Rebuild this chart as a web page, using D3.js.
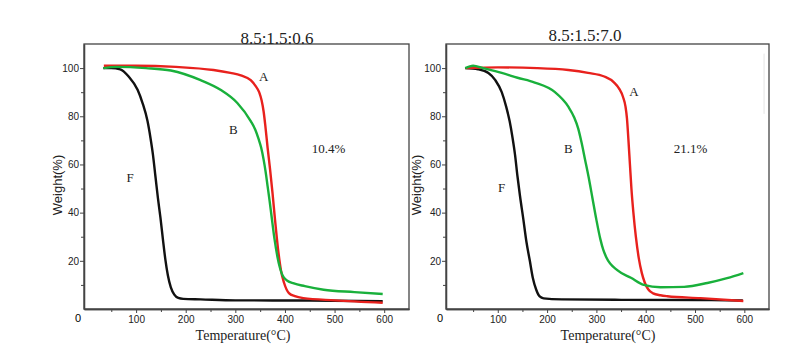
<!DOCTYPE html>
<html>
<head>
<meta charset="utf-8">
<script src="https://cdn.jsdelivr.net/npm/d3@7"></script>
<style>
  body { margin: 0; background: #fff; }
  svg { display: block; }
  .tick text { font-family: "Liberation Sans", Arial, sans-serif; font-size: 10px; fill: #222; }
  .serif { font-family: "Liberation Serif", "Times New Roman", serif; fill: #222; }
</style>
</head>
<body>
<svg id="chart" width="791" height="352"></svg>
<script>
// tick values
var majorX = [100, 200, 300, 400, 500, 600];
var minorX = [50, 150, 250, 350, 450, 550];
var majorY = [20, 40, 60, 80, 100];
var minorY = [10, 30, 50, 70, 90];

// left panel 8.5:1.5:0.6  [temperature, weight%]
var leftA = [[35,101],[100,101],[180,100.5],[256,99.2],[290,98],[311,97],[331,95],[341,92.5],[348,90],[353,86.5],[357,82],[361,75],[365,67],[370,58],[375,48],[380,37],[386,25],[392,16],[398,11],[408,6.6],[420,5.3],[437,4.5],[500,3.6],[597,2.6]];
var leftB = [[34,100],[60,100.5],[120,100],[170,99],[230,95],[270,91],[304,85.5],[331,78],[340,74.5],[347,70.5],[352,67],[357,62],[361,57],[365,51],[369,45],[373,38.5],[379,29],[385,21.5],[390,17],[395,14],[403,12],[418,10.6],[440,9.5],[478,8],[540,7],[597,6.2]];
var leftF = [[34,100],[50,100],[68,99.5],[85,96.5],[103,91],[113,85.5],[123,78],[129,71],[134,64],[139,55],[144,46],[149,38],[154,29],[159,20.5],[164,14],[170,9],[177,6],[185,4.6],[195,4.2],[230,4],[300,3.6],[450,3.5],[597,3.2]];

// right panel 8.5:1.5:7.0
var rightA = [[35,100],[100,100.3],[180,100],[243,99.2],[283,98],[316,96.5],[336,94],[346,91.5],[354,88],[359,84],[362,79],[365,70],[368,60],[371,50],[375,40],[380,30],[386,21],[392,15],[398,11],[405,8.2],[415,6.5],[430,5.7],[444,5.3],[511,4.5],[598,3.3]];
var rightB = [[34,100],[50,101],[70,100],[108,98],[140,96],[175,94],[216,90],[243,84],[255,79.5],[263,75],[270,69],[277,62],[284,55],[292,46],[300,37],[308,29],[314,24.5],[320,21.5],[343,16],[370,13],[396,10],[430,9],[478,9.2],[525,10.8],[565,12.8],[598,14.9]];
var rightF = [[34,100],[60,99.5],[81,98],[95,95],[108,90],[117,84],[124,78],[130,71],[135,64],[140,55],[145,47],[152,37],[158,28],[165,20],[171,13],[178,8],[185,5.2],[193,4.4],[230,4],[350,3.8],[530,3.7],[597,3.5]];

var colors = { A: "#e8211d", B: "#19b03b", F: "#111111" };

var svg = d3.select("#chart");

function drawPanel(cfg) {
    var x = d3.scaleLinear().domain([-5, 650]).range([cfg.left, cfg.right]);
    var y = d3.scaleLinear().domain([0, 110]).range([309, 44]);
    var g = svg.append("g");

    // frame
    g.append("rect")
        .attr("x", cfg.left).attr("y", 44)
        .attr("width", cfg.right - cfg.left).attr("height", 309 - 44)
        .attr("fill", "none").attr("stroke", "#444").attr("stroke-width", 1.3);

    // axes
    g.append("g").attr("transform", "translate(0,309)")
        .call(d3.axisBottom(x).tickValues(majorX).tickSize(4).tickPadding(3).tickSizeOuter(0));
    g.append("g").attr("transform", "translate(0,309)")
        .call(d3.axisBottom(x).tickValues(minorX).tickSize(3).tickFormat("").tickSizeOuter(0));
    g.append("g").attr("transform", "translate(" + cfg.left + ",0)")
        .call(d3.axisLeft(y).tickValues(majorY).tickSize(4).tickPadding(1).tickSizeOuter(0));
    g.append("g").attr("transform", "translate(" + cfg.left + ",0)")
        .call(d3.axisLeft(y).tickValues(minorY).tickSize(3).tickFormat("").tickSizeOuter(0));
    g.selectAll(".domain").attr("stroke", "#444").attr("stroke-width", 1.3);
    g.selectAll(".tick line").attr("stroke", "#444");

    // origin label
    g.append("text").attr("x", cfg.left - 6).attr("y", 322)
        .attr("text-anchor", "middle")
        .style("font-family", "Liberation Sans, Arial, sans-serif").style("font-size", "11px")
        .text("0");

    // curves
    var line = d3.line()
        .x(function(d){ return x(d[0]); })
        .y(function(d){ return y(d[1]); })
        .curve(d3.curveMonotoneX);
    cfg.series.forEach(function(s){
        g.append("path").datum(s.data)
            .attr("fill", "none")
            .attr("stroke", colors[s.key])
            .attr("stroke-width", 2.4)
            .attr("stroke-linejoin", "round")
            .attr("d", line);
    });

    // annotations
    cfg.notes.forEach(function(n){
        g.append("text").attr("class", "serif")
            .attr("x", x(n[0])).attr("y", y(n[1]))
            .attr("text-anchor", "middle")
            .style("font-size", "13px")
            .text(n[2]);
    });

    // titles
    g.append("text").attr("class", "serif")
        .attr("x", cfg.titleX).attr("y", cfg.titleY)
        .attr("text-anchor", "middle").style("font-size", "17px")
        .text(cfg.title);
    g.append("text").attr("class", "serif")
        .attr("x", cfg.xTitleX).attr("y", 340)
        .attr("text-anchor", "middle").style("font-size", "14px")
        .text("Temperature(°C)");
    g.append("text")
        .attr("transform", "translate(" + cfg.yTitleX + ",185) rotate(-90)")
        .attr("text-anchor", "middle")
        .style("font-family", "Liberation Sans, Arial, sans-serif").style("font-size", "13px")
        .style("fill", "#222")
        .text("Weight(%)");
    return { x: x, y: y, g: g };
}

drawPanel({
    left: 84, right: 409, title: "8.5:1.5:0.6", titleX: 277, titleY: 44,
    xTitleX: 243, yTitleX: 62,
    series: [{ key: "F", data: leftF }, { key: "A", data: leftA }, { key: "B", data: leftB }],
    notes: [[357, 94.5, "A"], [296, 72.6, "B"], [488, 64.8, "10.4%"], [88, 52.7, "F"]]
});

var rp = drawPanel({
    left: 446, right: 769, title: "8.5:1.5:7.0", titleX: 585, titleY: 41,
    xTitleX: 608, yTitleX: 421,
    series: [{ key: "F", data: rightF }, { key: "A", data: rightA }, { key: "B", data: rightB }],
    notes: [[376, 88.4, "A"], [243, 64.8, "B"], [491, 64.8, "21.1%"], [108, 48.6, "F"]]
});

// faint scan artefact inside right frame
rp.g.append("line")
    .attr("x1", rp.x(640)).attr("x2", rp.x(640))
    .attr("y1", rp.y(106)).attr("y2", rp.y(81))
    .attr("stroke", "#e4e4e4").attr("stroke-width", 1);
</script>
</body>
</html>
